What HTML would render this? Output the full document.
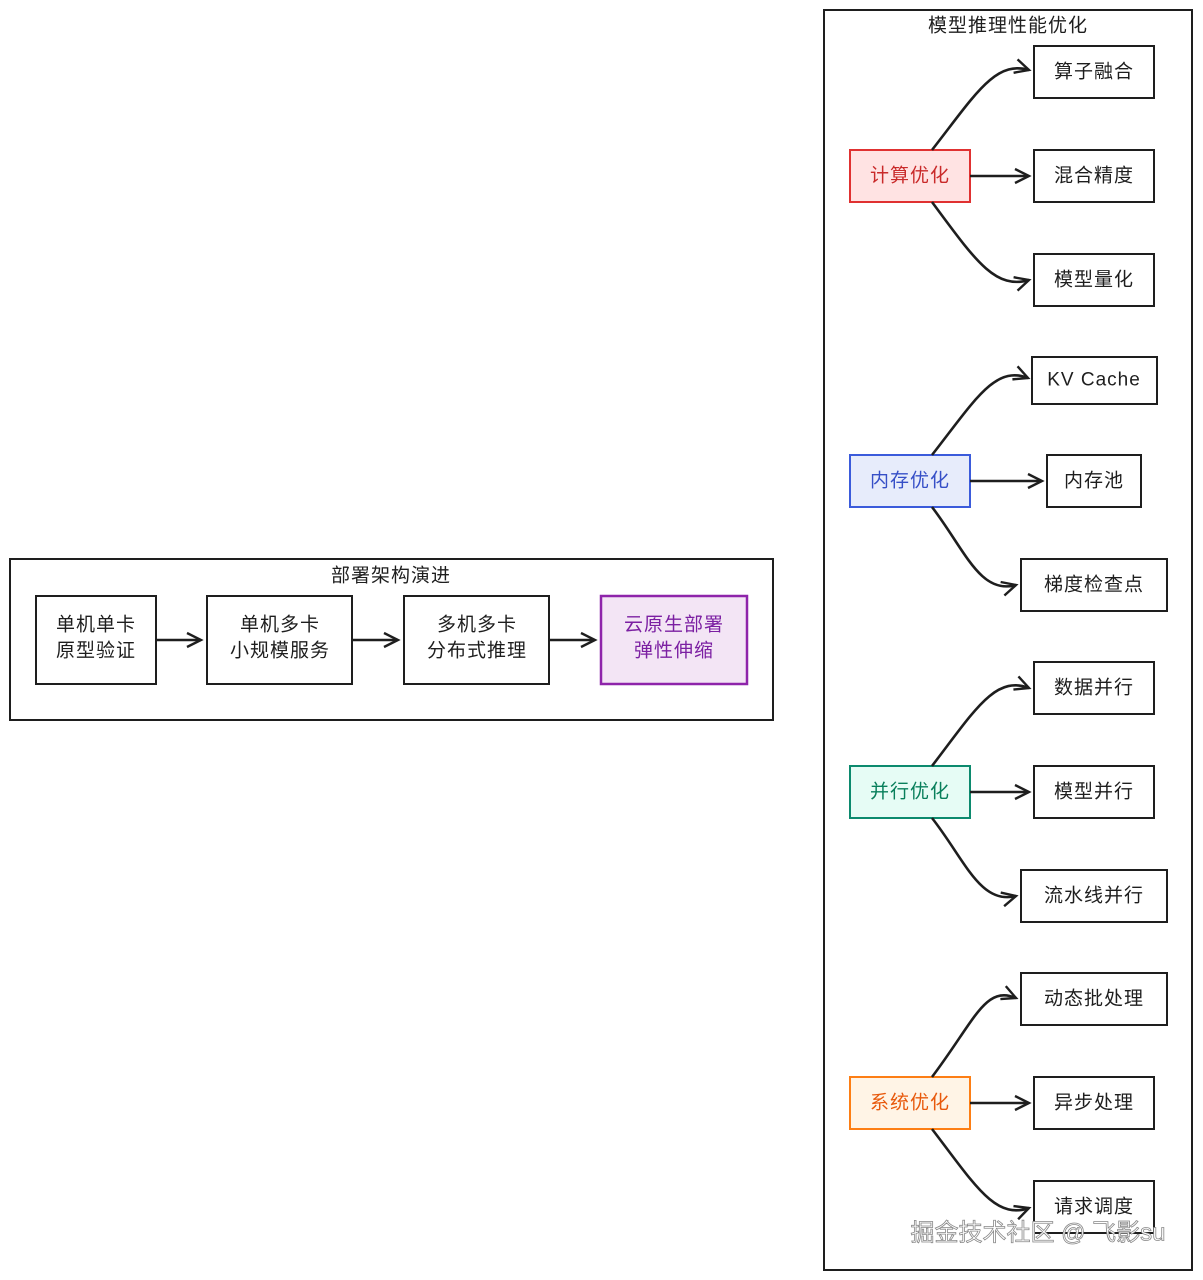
<!DOCTYPE html>
<html><head><meta charset="utf-8"><style>
body{margin:0;background:#fff;}
svg{display:block;font-family:"Liberation Sans","Noto Sans CJK SC",sans-serif;}
text{font-size:19px;letter-spacing:1px;text-anchor:middle;dominant-baseline:central;fill:#1e1e1e;}
</style></head><body>
<svg width="1203" height="1280" viewBox="0 0 1203 1280">
<defs><marker id="a" markerWidth="18" markerHeight="18" refX="15" refY="9" orient="auto" markerUnits="userSpaceOnUse"><path d="M1,2 L15,9 L1,16" fill="none" stroke="#1e1e1e" stroke-width="2.4"/></marker></defs>
<g fill="none" stroke="#1e1e1e" stroke-width="2">
<rect x="10" y="559" width="763" height="161"/>
<rect x="824" y="10" width="368" height="1260"/>
<rect x="36" y="596" width="120" height="88"/>
<rect x="207" y="596" width="145" height="88"/>
<rect x="404" y="596" width="145" height="88"/>
<rect x="1034" y="46" width="120" height="52"/>
<rect x="1034" y="150" width="120" height="52"/>
<rect x="1034" y="254" width="120" height="52"/>
<rect x="1032" y="357" width="125" height="47"/>
<rect x="1047" y="455" width="94" height="52"/>
<rect x="1021" y="559" width="146" height="52"/>
<rect x="1034" y="662" width="120" height="52"/>
<rect x="1034" y="766" width="120" height="52"/>
<rect x="1021" y="870" width="146" height="52"/>
<rect x="1021" y="973" width="146" height="52"/>
<rect x="1034" y="1077" width="120" height="52"/>
<rect x="1034" y="1181" width="120" height="52"/>
</g>
<rect x="601" y="596" width="146" height="88" fill="#f3e5f5" stroke="#8e24aa" stroke-width="2.5"/>
<rect x="850" y="150" width="120" height="52" fill="#ffe3e3" stroke="#e03131" stroke-width="2"/>
<rect x="850" y="455" width="120" height="52" fill="#e7ecfb" stroke="#3b5bdb" stroke-width="2"/>
<rect x="850" y="766" width="120" height="52" fill="#e6fcf5" stroke="#0c8a6e" stroke-width="2"/>
<rect x="850" y="1077" width="120" height="52" fill="#fff4e6" stroke="#fd7e14" stroke-width="2"/>
<g fill="none" stroke="#1e1e1e" stroke-width="2.6" marker-end="url(#a)">
<path d="M156,640 L201,640"/><path d="M352,640 L398,640"/><path d="M549,640 L595,640"/>
<path d="M932,150 C975,95 995,60 1029,70"/><path d="M970,176 L1029,176"/><path d="M932,202 C975,260 995,290 1029,280"/>
<path d="M932,455 C975,400 995,365 1028,378"/><path d="M970,481 L1042,481"/><path d="M932,507 C965,550 980,595 1016,585"/>
<path d="M932,766 C975,710 995,675 1029,688"/><path d="M970,792 L1029,792"/><path d="M932,818 C965,860 980,905 1016,896"/>
<path d="M932,1077 C975,1020 985,985 1016,998"/><path d="M970,1103 L1029,1103"/><path d="M932,1129 C975,1185 995,1220 1029,1208"/>
</g>
<text x="391" y="576">部署架构演进</text>
<text x="96" y="625">单机单卡</text><text x="96" y="651">原型验证</text>
<text x="280" y="625">单机多卡</text><text x="280" y="651">小规模服务</text>
<text x="477" y="625">多机多卡</text><text x="477" y="651">分布式推理</text>
<text x="674" y="625" style="fill:#7b1fa2">云原生部署</text><text x="674" y="651" style="fill:#7b1fa2">弹性伸缩</text>
<text x="1008" y="26">模型推理性能优化</text>
<text x="910" y="176" style="fill:#c92a2a">计算优化</text>
<text x="910" y="481" style="fill:#364fc7">内存优化</text>
<text x="910" y="792" style="fill:#087f5b">并行优化</text>
<text x="910" y="1103" style="fill:#e8590c">系统优化</text>
<text x="1094" y="72">算子融合</text><text x="1094" y="176">混合精度</text><text x="1094" y="280">模型量化</text>
<text x="1094" y="380">KV Cache</text><text x="1094" y="481">内存池</text><text x="1094" y="585">梯度检查点</text>
<text x="1094" y="688">数据并行</text><text x="1094" y="792">模型并行</text><text x="1094" y="896">流水线并行</text>
<text x="1094" y="999">动态批处理</text><text x="1094" y="1103">异步处理</text><text x="1094" y="1207">请求调度</text>
<text x="1038" y="1233" style="font-size:24px;letter-spacing:0;fill:#fff;stroke:#888;stroke-width:0.8">掘金技术社区 @ 飞影su</text>
</svg>
</body></html>
